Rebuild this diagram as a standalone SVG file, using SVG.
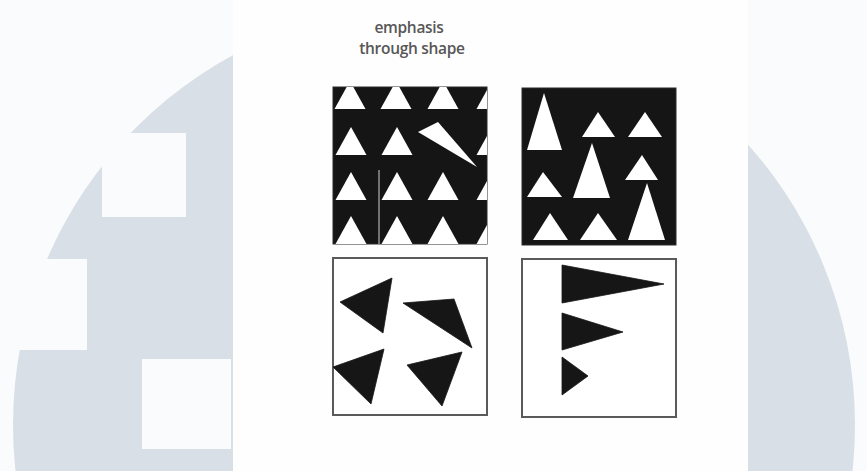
<svg xmlns="http://www.w3.org/2000/svg" xmlns:xlink="http://www.w3.org/1999/xlink" width="867" height="471" viewBox="0 0 867 471">
  <style>
    .bgw { fill: #fafbfc; }
    .circ { fill: #d8dfe7; }
    .panel { fill: #fefefe; }
    .dark { fill: #151515; stroke: #2a2a2a; stroke-width: 1; }
    .light { fill: #ffffff; stroke: #5a5a5a; stroke-width: 2; }
    .wt { fill: #ffffff; }
    .bt { fill: #161616; stroke: #161616; stroke-width: 0.8; stroke-linejoin: round; }
    .title { font-family: "Open Sans", "Liberation Sans", sans-serif; font-size: 15.5px; font-weight: 600; fill: #575757; text-anchor: middle; letter-spacing: -0.3px; }
  </style>
  <defs>
    <polygon id="tri" points="-15.5,28 15.5,28 0,0"/>
    <clipPath id="clipTL"><rect x="333" y="87" width="154" height="157"/></clipPath>
  </defs>

  <g id="background">
    <rect class="bgw" x="0" y="0" width="867" height="471"/>
    <circle class="circ" cx="434" cy="425" r="421"/>
    <rect class="bgw" x="102" y="133" width="84" height="84"/>
    <rect class="bgw" x="0" y="259" width="87" height="91"/>
    <rect class="bgw" x="142" y="359" width="89" height="90"/>
    <rect class="panel" x="233" y="0" width="515" height="471"/>
  </g>

  <g id="title">
    <text class="title" x="409" y="33">emphasis</text>
    <text class="title" x="412" y="54">through shape</text>
  </g>

  <g id="panel-top-left">
    <rect class="dark" x="333" y="87" width="154" height="157"/>
    <g clip-path="url(#clipTL)" class="wt">
      <use xlink:href="#tri" x="350" y="81"/>
      <use xlink:href="#tri" x="396" y="81"/>
      <use xlink:href="#tri" x="443" y="81"/>
      <use xlink:href="#tri" x="492" y="81"/>
      <use xlink:href="#tri" x="351" y="127"/>
      <use xlink:href="#tri" x="397" y="127"/>
      <use xlink:href="#tri" x="492" y="127"/>
      <use xlink:href="#tri" x="351" y="172"/>
      <use xlink:href="#tri" x="397" y="172"/>
      <use xlink:href="#tri" x="443" y="172"/>
      <use xlink:href="#tri" x="492" y="172"/>
      <use xlink:href="#tri" x="351" y="216"/>
      <use xlink:href="#tri" x="397" y="216"/>
      <use xlink:href="#tri" x="443" y="216"/>
      <use xlink:href="#tri" x="492" y="216"/>
      <polygon points="418,132 438,122 477,167"/>
      <rect x="378.5" y="170" width="1" height="74" fill="#cfcfcf"/>
    </g>
  </g>

  <g id="panel-top-right">
    <rect class="dark" x="522" y="88" width="154" height="157"/>
    <g class="wt">
      <polygon points="527,150 562,150 544,93"/>
      <polygon points="582,137 615,137 598,112"/>
      <polygon points="628,137 662,137 645,112"/>
      <polygon points="527,197 562,197 543,172"/>
      <polygon points="573,198 610,198 592,143"/>
      <polygon points="625,180 658,180 642,155"/>
      <polygon points="628,240 665,240 647,183"/>
      <polygon points="533,240 568,240 550,213"/>
      <polygon points="580,240 617,240 598,213"/>
    </g>
  </g>

  <g id="panel-bottom-left">
    <rect class="light" x="333" y="258" width="154" height="157"/>
    <polygon class="bt" points="340,302 392,278 383,333"/>
    <polygon class="bt" points="403,303 454,299 472,348"/>
    <polygon class="bt" points="333,367 384,349 371,404"/>
    <polygon class="bt" points="407,365 462,352 442,406"/>
  </g>

  <g id="panel-bottom-right">
    <rect class="light" x="522" y="259" width="154" height="158"/>
    <polygon class="bt" points="562,265 562,303 664,284"/>
    <polygon class="bt" points="562,313 562,350 623,332"/>
    <polygon class="bt" points="562,357 562,395 588,376"/>
  </g>

  <g id="connectors"/>
</svg>
